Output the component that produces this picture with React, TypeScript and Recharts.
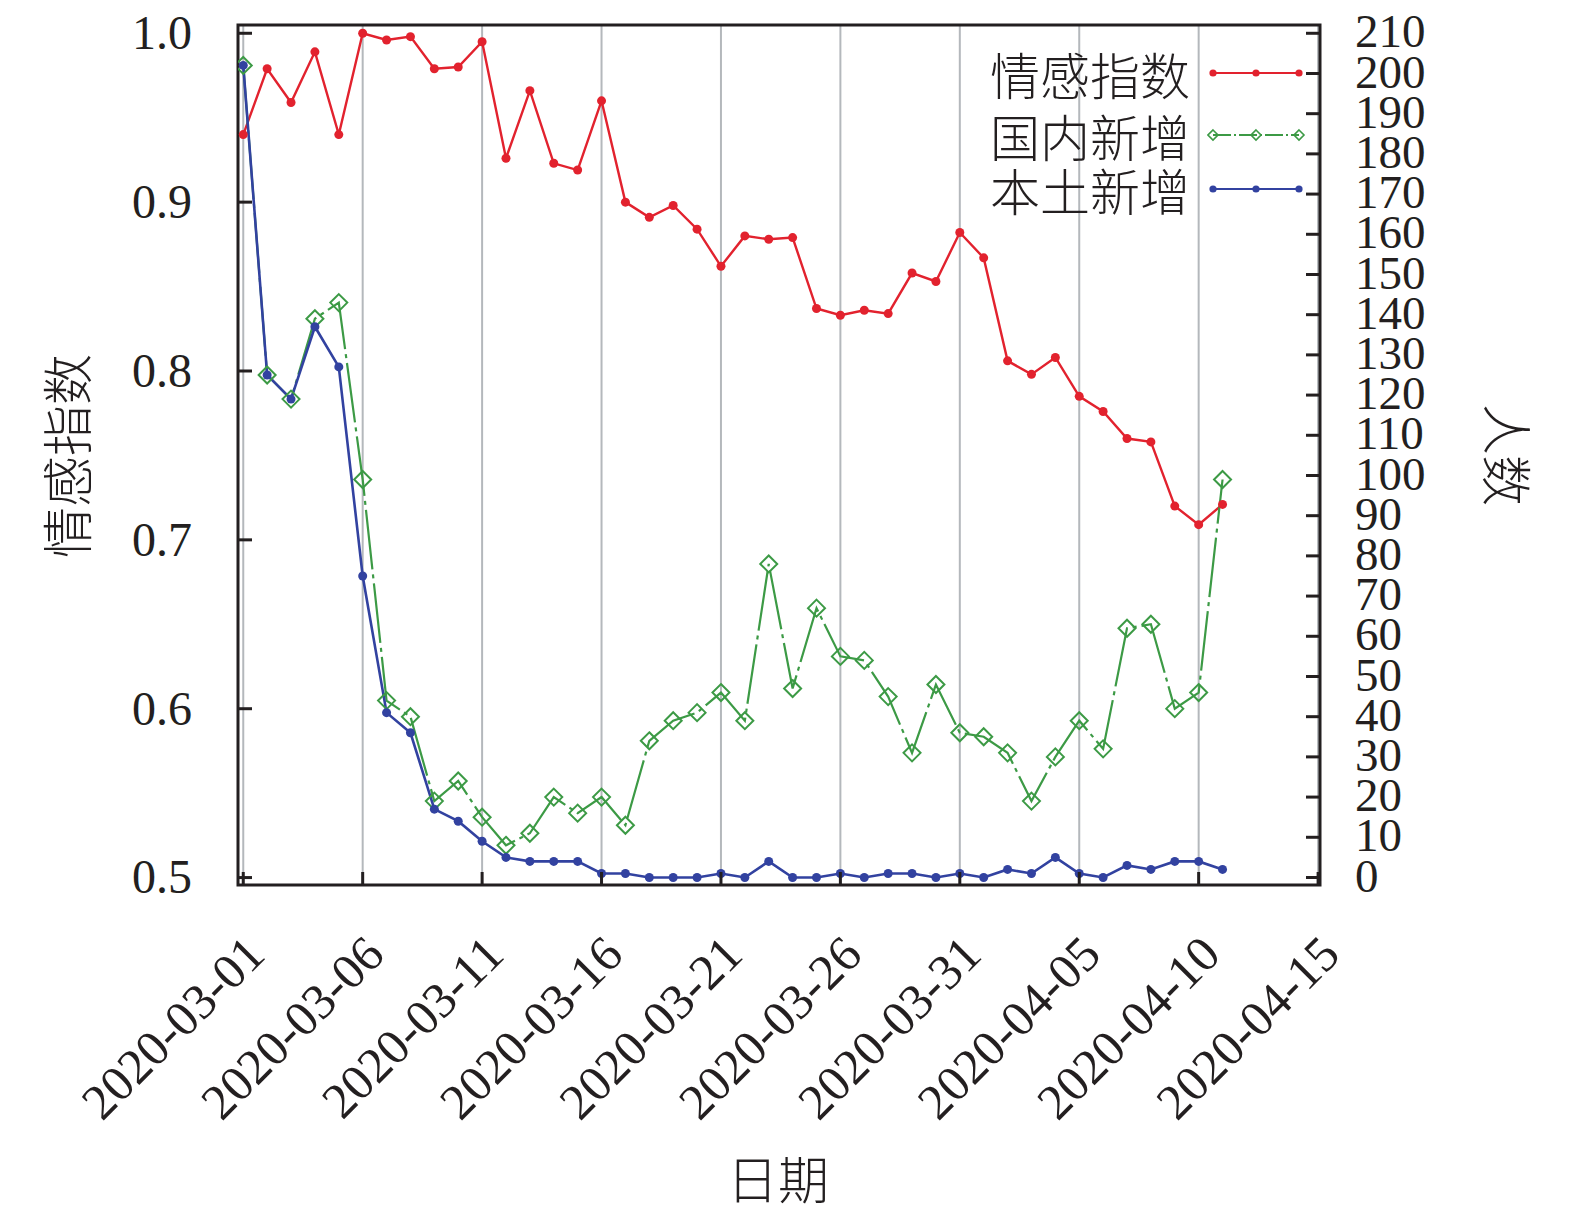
import React from "react";
import { ComposedChart, Line, XAxis, YAxis, CartesianGrid, ReferenceArea } from "recharts";

// 日期(2020-03-01 ~ 2020-04-11,逐日)
const dates = [
  "2020-03-01", "2020-03-02", "2020-03-03", "2020-03-04", "2020-03-05", "2020-03-06", "2020-03-07",
  "2020-03-08", "2020-03-09", "2020-03-10", "2020-03-11", "2020-03-12", "2020-03-13", "2020-03-14",
  "2020-03-15", "2020-03-16", "2020-03-17", "2020-03-18", "2020-03-19", "2020-03-20", "2020-03-21",
  "2020-03-22", "2020-03-23", "2020-03-24", "2020-03-25", "2020-03-26", "2020-03-27", "2020-03-28",
  "2020-03-29", "2020-03-30", "2020-03-31", "2020-04-01", "2020-04-02", "2020-04-03", "2020-04-04",
  "2020-04-05", "2020-04-06", "2020-04-07", "2020-04-08", "2020-04-09", "2020-04-10", "2020-04-11",
];

// 情感指数(左轴)
const sentiment = [
  0.94, 0.979, 0.959, 0.989, 0.94, 1.0, 0.996, 0.998, 0.979, 0.98,
  0.995, 0.926, 0.966, 0.923, 0.919, 0.96, 0.9, 0.891, 0.898, 0.884,
  0.862, 0.88, 0.878, 0.879, 0.837, 0.833, 0.836, 0.834, 0.858, 0.853, 0.882,
  0.867, 0.806, 0.798, 0.808, 0.785, 0.776, 0.76, 0.758, 0.72, 0.709, 0.721,
];

// 国内新增(右轴,人数)
const domestic = [
  202, 125, 119, 139, 143, 99, 44, 40, 19, 24,
  15, 8, 11, 20, 16, 20, 13, 34, 39, 41,
  46, 39, 78, 47, 67, 55, 54, 45, 31, 48, 36,
  35, 31, 19, 30, 39, 32, 62, 63, 42, 46, 99,
];

// 本土新增(右轴,人数)
const local = [
  202, 125, 119, 137, 127, 75, 41, 36, 17, 14,
  9, 5, 4, 4, 4, 1, 1, 0, 0, 0,
  1, 0, 4, 0, 0, 1, 0, 1, 1, 0, 1,
  0, 2, 1, 5, 1, 0, 3, 2, 4, 4, 2,
];

const xTicks = [0, 5, 10, 15, 20, 25, 30, 35, 40, 45];
const xTickLabels = [
  "2020-03-01", "2020-03-06", "2020-03-11", "2020-03-16", "2020-03-21",
  "2020-03-26", "2020-03-31", "2020-04-05", "2020-04-10", "2020-04-15",
];
const leftTicks = [0.5, 0.6, 0.7, 0.8, 0.9, 1.0];
const rightTicks = [0, 10, 20, 30, 40, 50, 60, 70, 80, 90, 100, 110, 120, 130, 140, 150, 160, 170, 180, 190, 200, 210];

const seriesNames = ["情感指数", "国内新增", "本土新增"];

// 整页铺满(容器绝对定位在 0,0,不受 body 边距影响)
const W = 1575;
const H = 1219;
const PLOT_TOP = 25;
const PLOT_LEFT = 238;
const PLOT_RIGHT = 1320;
const PLOT_BOTTOM = 885;
const X_DOMAIN: [number, number] = [-0.22, 45.08];
const LEFT_DOMAIN: [number, number] = [0.4956, 1.0049];
const RIGHT_DOMAIN: [number, number] = [-1.87, 212.06];

const RED = "#e2222e";
const GREEN = "#3c9a45";
const BLUE = "#3242a0";
const INK = "#231f20";
const GRID = "#b4b8bc";
const NUM_FONT = '"Liberation Serif", "Times New Roman", serif';
const CJK_FONT = '"Noto Sans CJK SC", "Noto Sans", sans-serif';

const data = dates.map((d, i) => ({
  day: i,
  date: d,
  sentiment: sentiment[i],
  domestic: domestic[i],
  local: local[i],
}));

function XTick(props: any) {
  const { x, payload } = props;
  const label = xTickLabels[xTicks.indexOf(payload.value)];
  const ax = x + 24;
  const ay = PLOT_BOTTOM + 72;
  return (
    <g>
      <line x1={x} x2={x} y1={PLOT_BOTTOM} y2={PLOT_BOTTOM - 13} stroke={INK} strokeWidth={3} />
      <text
        x={ax}
        y={ay}
        transform={`rotate(-45 ${ax} ${ay})`}
        textAnchor="end"
        fontSize={50}
        fontFamily={NUM_FONT}
        fill={INK}
      >
        {label}
      </text>
    </g>
  );
}

function LeftTick(props: any) {
  const { y, payload } = props;
  return (
    <g>
      <line x1={PLOT_LEFT} x2={PLOT_LEFT + 14} y1={y} y2={y} stroke={INK} strokeWidth={3} />
      <text x={192} y={y} dy="0.33em" textAnchor="end" fontSize={48} fontFamily={NUM_FONT} fill={INK}>
        {payload.value.toFixed(1)}
      </text>
    </g>
  );
}

function RightTick(props: any) {
  const { y, payload } = props;
  return (
    <g>
      <line x1={PLOT_RIGHT - 14} x2={PLOT_RIGHT} y1={y} y2={y} stroke={INK} strokeWidth={3} />
      <text x={1355} y={y} dy="0.3em" textAnchor="start" fontSize={47} fontFamily={NUM_FONT} fill={INK}>
        {payload.value}
      </text>
    </g>
  );
}

// 轴标题:用自有的属性名,避免被 Recharts 注入的 x / y / angle 覆盖
function Title({ tx, ty, rot, text }: { tx: number; ty: number; rot: number; text: string }) {
  return (
    <text
      x={tx}
      y={ty}
      transform={`rotate(${rot} ${tx} ${ty})`}
      textAnchor="middle"
      dy="0.35em"
      fontSize={51}
      fontWeight={300}
      fontFamily={CJK_FONT}
      fill={INK}
    >
      {text}
    </text>
  );
}

function diamond(cx: number, cy: number, s: number) {
  return `M${cx},${cy - s}L${cx + s},${cy}L${cx},${cy + s}L${cx - s},${cy}Z`;
}

const GreenDot = (p: any) => (
  <path key={`g-${p.index}`} d={diamond(p.cx, p.cy, 8.5)} fill="none" stroke={GREEN} strokeWidth={2} />
);

function LegendSample({ kind, color }: { kind: "dot" | "diamond"; color: string }) {
  const xs = [6, 49, 92];
  return (
    <svg width={100} height={24} style={{ display: "block" }}>
      <line
        x1={6}
        x2={92}
        y1={12}
        y2={12}
        stroke={color}
        strokeWidth={2.2}
        strokeDasharray={kind === "diamond" ? "18 3 2 3" : undefined}
      />
      {xs.map((x) =>
        kind === "dot" ? (
          <circle key={x} cx={x} cy={12} r={3.6} fill={color} />
        ) : (
          <path key={x} d={diamond(x, 12, 5)} fill="none" stroke={color} strokeWidth={1.6} />
        ),
      )}
    </svg>
  );
}

const legendRows = [
  { name: seriesNames[0], color: RED, kind: "dot" as const, cy: 73 },
  { name: seriesNames[1], color: GREEN, kind: "diamond" as const, cy: 135 },
  { name: seriesNames[2], color: BLUE, kind: "dot" as const, cy: 189 },
];

export default function App() {
  return (
    <div style={{ position: "absolute", left: 0, top: 0, width: W, height: H, background: "#fff" }}>
      <ComposedChart width={W} height={H} data={data} margin={{ top: PLOT_TOP, right: 0, bottom: 0, left: 0 }}>
        <CartesianGrid vertical horizontal={false} stroke={GRID} strokeWidth={2} />
        <XAxis
          dataKey="day"
          type="number"
          domain={X_DOMAIN}
          allowDataOverflow
          ticks={xTicks}
          interval={0}
          height={H - PLOT_BOTTOM}
          tickSize={0}
          axisLine={false}
          tickLine={false}
          tick={<XTick />}
          label={<Title tx={778} ty={1181} rot={0} text="日期" />}
        />
        <YAxis
          yAxisId="left"
          type="number"
          domain={LEFT_DOMAIN}
          allowDataOverflow
          ticks={leftTicks}
          interval={0}
          width={PLOT_LEFT}
          tickSize={0}
          axisLine={false}
          tickLine={false}
          tick={<LeftTick />}
          label={<Title tx={69} ty={456} rot={-90} text="情感指数" />}
        />
        <YAxis
          yAxisId="right"
          orientation="right"
          type="number"
          domain={RIGHT_DOMAIN}
          allowDataOverflow
          ticks={rightTicks}
          interval={0}
          width={W - PLOT_RIGHT}
          tickSize={0}
          axisLine={false}
          tickLine={false}
          tick={<RightTick />}
          label={<Title tx={1505} ty={455} rot={90} text="人数" />}
        />
        <Line
          yAxisId="left"
          type="linear"
          dataKey="sentiment"
          name={seriesNames[0]}
          stroke={RED}
          strokeWidth={2.4}
          dot={{ r: 4.5, fill: RED, stroke: RED, strokeWidth: 0 }}
          isAnimationActive={false}
        />
        <Line
          yAxisId="right"
          type="linear"
          dataKey="domestic"
          name={seriesNames[1]}
          stroke={GREEN}
          strokeWidth={2.2}
          strokeDasharray="60 5 4 5"
          dot={GreenDot}
          isAnimationActive={false}
        />
        <Line
          yAxisId="right"
          type="linear"
          dataKey="local"
          name={seriesNames[2]}
          stroke={BLUE}
          strokeWidth={2.6}
          dot={{ r: 4.5, fill: BLUE, stroke: BLUE, strokeWidth: 0 }}
          isAnimationActive={false}
        />
        <ReferenceArea
          yAxisId="left"
          x1={X_DOMAIN[0]}
          x2={X_DOMAIN[1]}
          y1={LEFT_DOMAIN[0]}
          y2={LEFT_DOMAIN[1]}
          fill="none"
          stroke={INK}
          strokeWidth={3}
          ifOverflow="visible"
        />
      </ComposedChart>
      {legendRows.map((r) => (
        <React.Fragment key={r.name}>
          <div
            style={{
              position: "absolute",
              right: W - 1190,
              top: r.cy - 25,
              height: 50,
              lineHeight: "50px",
              fontSize: 50,
              fontWeight: 300,
              fontFamily: CJK_FONT,
              color: INK,
              whiteSpace: "nowrap",
            }}
          >
            {r.name}
          </div>
          <div style={{ position: "absolute", left: 1207, top: r.cy - 12 }}>
            <LegendSample kind={r.kind} color={r.color} />
          </div>
        </React.Fragment>
      ))}
    </div>
  );
}
